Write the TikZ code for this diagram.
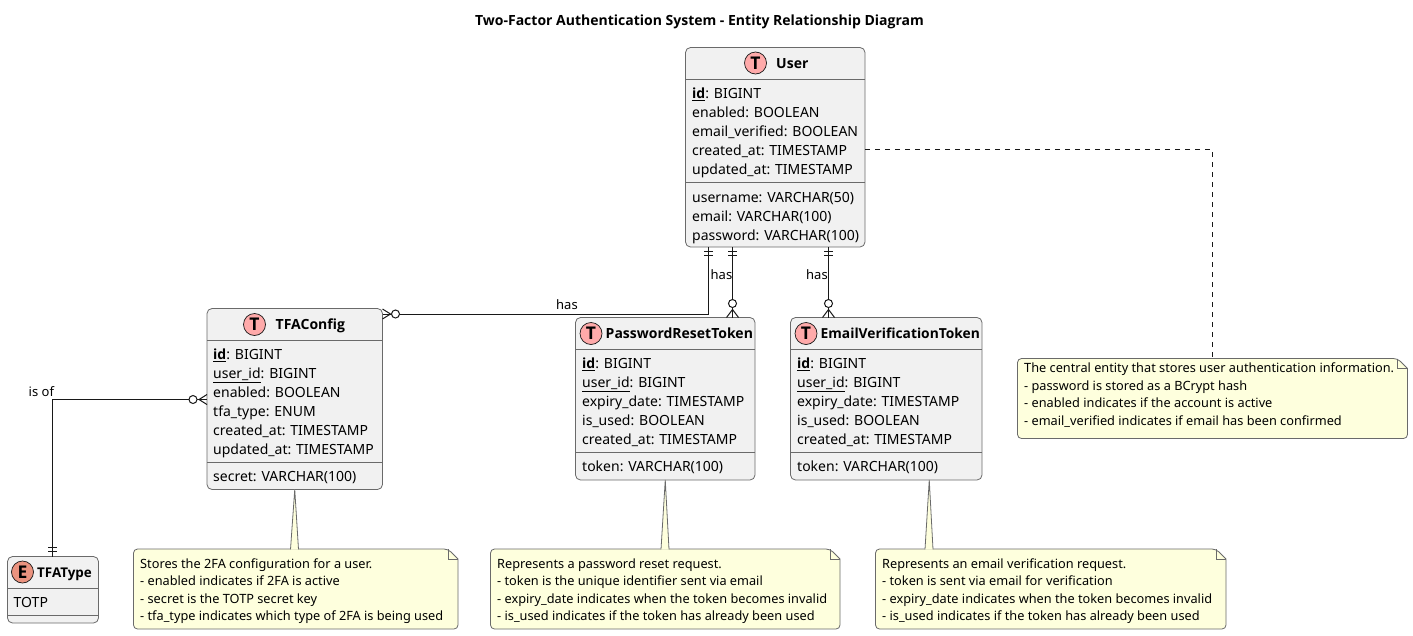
\documentclass[tikz,border=0pt]{standalone}
\usepackage{fontspec}
\setmainfont{Noto Sans}[BoldFont={Open Sans Bold}]
\usetikzlibrary{calc}
\definecolor{edgegray}{HTML}{6A6A6A}
\definecolor{linedark}{HTML}{181818}
\definecolor{boxfill}{HTML}{F1F1F1}
\definecolor{notefill}{HTML}{FEFFDD}
\definecolor{tcirc}{HTML}{FFAAAA}
\definecolor{ecirc}{HTML}{EB937F}
\tikzset{
  x=1pt,y=-1pt,
  entitybox/.style={draw=edgegray,fill=boxfill,line width=0.8pt,rounded corners=5pt,inner sep=0pt,outer sep=0pt},
  seprule/.style={draw=edgegray,line width=0.8pt},
  badge/.style={circle,draw=linedark,line width=0.7pt,minimum size=22pt,inner sep=0pt,font=\fontsize{17.5}{17.5}\selectfont\bfseries},
  enttitle/.style={anchor=base west,inner sep=0pt,font=\fontsize{14}{17}\selectfont\bfseries},
  attrs/.style={anchor=base west,inner sep=0pt,align=left,font=\fontsize{14}{18.9}\selectfont},
  notebody/.style={anchor=base west,inner sep=0pt,align=left,font=\fontsize{12.75}{17.4}\selectfont},
  noteframe/.style={inner sep=0pt,outer sep=0pt},
  notepath/.style={draw=edgegray,fill=notefill,line width=0.8pt},
  conn/.style={draw=linedark,line width=1pt},
  dashconn/.style={draw=linedark,line width=1pt,dash pattern=on 5pt off 5pt},
  rellabel/.style={anchor=base west,inner sep=0pt,font=\fontsize{13}{15}\selectfont},
}
% name, x0, y0, x1, y1
\newcommand{\tbl}[5]{%
  \node[entitybox,minimum width={(#4-#2)*1pt},minimum height={(#5-#3)*1pt}] (#1) at ({(#2+#4)/2},{(#3+#5)/2}) {};}
\newcommand{\nt}[5]{%
  \node[noteframe,minimum width={(#4-#2)*1pt},minimum height={(#5-#3)*1pt}] (#1) at ({(#2+#4)/2},{(#3+#5)/2}) {};
  \draw[notepath,rounded corners=4pt] ($(#1.north east)+(0,10)$) -- (#1.south east) -- (#1.south west) -- (#1.north west) -- ($(#1.north east)+(-10,0)$) [sharp corners] -- ($(#1.north east)+(0,10)$) -- cycle;
  \draw[notepath,fill=none] ($(#1.north east)+(-10,0)$) -- ++(0,10) -- ++(10,0);
}
% apex, note, offset of the wedge along the note's top edge
\newcommand{\notewedge}[3]{%
  \fill[notefill] (#1) -- ($(#2.north west)+(#3-4,0.6)$) -- ($(#2.north west)+(#3+4,0.6)$) -- cycle;
  \draw[notepath,fill=none] ($(#2.north west)+(#3-4,0.4)$) -- (#1) -- ($(#2.north west)+(#3+4,0.4)$);
}
\begin{document}
\begin{tikzpicture}
\useasboundingbox (0,0) rectangle (1413,635);
\fill[white] (0,0) rectangle (1413,635);
\node[anchor=base,inner sep=0pt,font=\fontsize{14}{17}\selectfont\bfseries] (title) at (699.5,25) {Two-Factor Authentication System - Entity Relationship Diagram};

% entities
\tbl{user}{685.5}{47.5}{865}{247}
\tbl{tfa}{207}{308.5}{382.5}{489.5}
\tbl{prt}{575.5}{317.5}{755}{480}
\tbl{evt}{790.5}{317.5}{982}{480}
\tbl{tfatype}{7.5}{556.5}{98.5}{623}

% notes
\nt{nuser}{1017.5}{358.5}{1407.5}{438.5}
\nt{ntfa}{133.5}{549}{458}{629}
\nt{nprt}{490.5}{549}{840}{629}
\nt{nevt}{875.5}{549}{1226}{629}

% note connectors
\coordinate (evtanchor) at ($(evt.south)+(43,0)$);
\notewedge{tfa.south}{ntfa}{161}
\notewedge{prt.south}{nprt}{174.5}
\notewedge{evtanchor}{nevt}{53.5}
\draw[dashconn] (user.east |- 0,149) -- (1212,149) -- ($(nuser.north west)+(194.5,0)$);

% User
\node[badge,fill=tcirc] (ubadge) at (755.5,63) {T};
\node[enttitle] (utitle) at (776,68) {User};
\draw[seprule] (685.5,79) -- (865,79);
\node[attrs] (uattrs) at (692,174) {\textbf{\underline{id}}: BIGINT\\enabled: BOOLEAN\\email\_verified: BOOLEAN\\created\_at: TIMESTAMP\\updated\_at: TIMESTAMP};
\draw[seprule] (685.5,182.5) -- (865,182.5);
\node[attrs] (uattrs2) at (692,240.5) {username: VARCHAR(50)\\email: VARCHAR(100)\\password: VARCHAR(100)};

% TFAConfig
\node[badge,fill=tcirc] (tbadge) at (254.5,324.5) {T};
\node[enttitle] (ttitle) at (275.5,329.5) {TFAConfig};
\draw[seprule] (207,340.5) -- (382.5,340.5);
\node[attrs] (tattrs) at (213,454) {\textbf{\underline{id}}: BIGINT\\\underline{user\_id}: BIGINT\\enabled: BOOLEAN\\tfa\_type: ENUM\\created\_at: TIMESTAMP\\updated\_at: TIMESTAMP};
\draw[seprule] (207,462.5) -- (382.5,462.5);
\node[attrs] (tattrs2) at (213,481) {secret: VARCHAR(100)};

% PasswordResetToken
\node[badge,fill=tcirc] (pbadge) at (591,333.5) {T};
\node[enttitle] (ptitle) at (605.5,338.5) {PasswordResetToken};
\draw[seprule] (575.5,349.5) -- (755,349.5);
\node[attrs] (pattrs) at (582,444) {\textbf{\underline{id}}: BIGINT\\\underline{user\_id}: BIGINT\\expiry\_date: TIMESTAMP\\is\_used: BOOLEAN\\created\_at: TIMESTAMP};
\draw[seprule] (575.5,452.5) -- (755,452.5);
\node[attrs] (pattrs2) at (582,471.5) {token: VARCHAR(100)};

% EmailVerificationToken
\node[badge,fill=tcirc] (ebadge) at (806,333.5) {T};
\node[enttitle,font=\fontsize{13.8}{17}\selectfont\bfseries] (etitle) at (820.5,338.5) {EmailVerificationToken};
\draw[seprule] (790.5,349.5) -- (982,349.5);
\node[attrs] (eattrs) at (797,444) {\textbf{\underline{id}}: BIGINT\\\underline{user\_id}: BIGINT\\expiry\_date: TIMESTAMP\\is\_used: BOOLEAN\\created\_at: TIMESTAMP};
\draw[seprule] (790.5,452.5) -- (982,452.5);
\node[attrs] (eattrs2) at (797,471.5) {token: VARCHAR(100)};

% TFAType
\node[badge,fill=ecirc] (tybadge) at (22.5,572) {E};
\node[enttitle,font=\fontsize{13.4}{17}\selectfont\bfseries] (tytitle) at (37,577) {TFAType};
\draw[seprule] (7.5,588.5) -- (98.5,588.5);
\node[attrs] (tyattrs) at (13.5,607) {TOTP};
\draw[seprule] (7.5,615) -- (98.5,615);

% note texts
\node[notebody] (nutext) at (1024,425) {The central entity that stores user authentication information.\\- password is stored as a BCrypt hash\\- enabled indicates if the account is active\\- email\_verified indicates if email has been confirmed};
\node[notebody] (nttext) at (140,620.5) {Stores the 2FA configuration for a user.\\- enabled indicates if 2FA is active\\- secret is the TOTP secret key\\- tfa\_type indicates which type of 2FA is being used};
\node[notebody] (nptext) at (497,620.5) {Represents a password reset request.\\- token is the unique identifier sent via email\\- expiry\_date indicates when the token becomes invalid\\- is\_used indicates if the token has already been used};
\node[notebody] (netext) at (882,620.5) {Represents an email verification request.\\- token is sent via email for verification\\- expiry\_date indicates when the token becomes invalid\\- is\_used indicates if the token has already been used};

% relations
\coordinate (ua) at ($(user.south west)+(23,0)$);
\coordinate (ub) at ($(user.south west)+(47,0)$);
\coordinate (uc) at ($(user.south west)+(143,0)$);
\coordinate (ta) at ($(tfa.north east)+(0,5.5)$);
\coordinate (tb) at ($(tfa.north west)+(0,91)$);
\coordinate (pa) at (prt.north -| ub);
\coordinate (ea) at (evt.north -| uc);
\coordinate (ty) at ($(tfatype.north west)+(45,0)$);

\draw[conn] (ua) -- (ua |- ta) -- (ta);
\draw[conn] (ub) -- (pa);
\draw[conn] (uc) -- (ea);
\draw[conn] (tb) -- (ty |- tb) -- (ty);

% tee marks
\foreach \p in {ua,ub,uc} {
  \draw[conn] ($(\p)+(-4.5,4.5)$) -- ++(9,0);
  \draw[conn] ($(\p)+(-4.5,8.5)$) -- ++(9,0);
}
\draw[conn] ($(ty)+(-4.5,-5)$) -- ++(9,0);
\draw[conn] ($(ty)+(-4.5,-9)$) -- ++(9,0);

% crow's feet with zero
\foreach \p in {pa,ea} {
  \draw[conn,fill=white] ($(\p)+(0,-14)$) circle[radius=4];
  \draw[conn] ($(\p)+(-6,0)$) -- ($(\p)+(0,-8)$) -- ($(\p)+(6,0)$);
}
\draw[conn,fill=white] ($(ta)+(13,0)$) circle[radius=4];
\draw[conn] ($(ta)+(0,-5)$) -- ($(ta)+(8,0)$) -- ($(ta)+(0,5)$);
\draw[conn,fill=white] ($(tb)+(-14,0)$) circle[radius=4];
\draw[conn] ($(tb)+(0,-5)$) -- ($(tb)+(-8,0)$) -- ($(tb)+(0,5)$);

% labels
\node[rellabel] (l1) at (556,309) {has};
\node[rellabel] (l2) at (710.5,279) {has};
\node[rellabel] (l3) at (806,279) {has};
\node[rellabel] (l4) at (28.5,396) {is of};
\end{tikzpicture}
\end{document}
